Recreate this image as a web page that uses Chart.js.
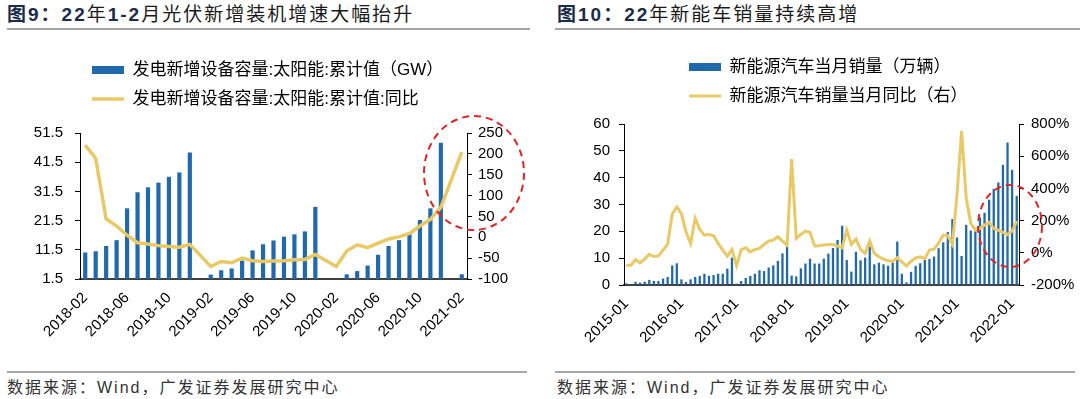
<!DOCTYPE html>
<html>
<head>
<meta charset="utf-8">
<script src="https://cdn.jsdelivr.net/npm/chart.js@4.4.1/dist/chart.umd.min.js"></script>
<style>
  body { margin: 0; width: 1080px; height: 399px; background: #fff; position: relative; overflow: hidden;
         font-family: "Liberation Sans", "Noto Sans CJK SC", sans-serif; }
  .title { position: absolute; top: 3px; font-size: 19px; line-height: 24px; letter-spacing: 2px; color: #1a1a1a; white-space: nowrap; }
  .title b { color: #1b2b48; }
  .rule { position: absolute; height: 2px; background: #a6a6a6; }
  .src { position: absolute; top: 378px; font-size: 16px; line-height: 20px; letter-spacing: 2px; color: #333; white-space: nowrap; }
  .box { position: absolute; top: 36px; width: 540px; height: 318px; }
</style>
</head>
<body>

<div class="title" style="left:7px"><b>图9：22</b>年<b>1-2</b>月光伏新增装机增速大幅抬升</div>
<div class="rule" style="left:7px; width:523px; top:28px"></div>
<div class="title" style="left:557px"><b>图10：22</b>年新能车销量持续高增</div>
<div class="rule" style="left:555px; width:525px; top:28px"></div>

<div class="box" style="left:0"><canvas id="pvChart" width="540" height="318"></canvas></div>
<div class="box" style="left:540px"><canvas id="evChart" width="540" height="318"></canvas></div>

<div class="rule" style="left:7px; width:520px; top:371px"></div>
<div class="src" style="left:7px">数据来源：Wind，广发证券发展研究中心</div>
<div class="rule" style="left:555px; width:520px; top:371px"></div>
<div class="src" style="left:557px">数据来源：Wind，广发证券发展研究中心</div>

<script>
// ── 图9 data ──
const pvMonths = [
    '2018-02','2018-03','2018-04','2018-05','2018-06','2018-07','2018-08','2018-09','2018-10','2018-11','2018-12',
    '2019-01','2019-02','2019-03','2019-04','2019-05','2019-06','2019-07','2019-08','2019-09','2019-10','2019-11','2019-12',
    '2020-01','2020-02','2020-03','2020-04','2020-05','2020-06','2020-07','2020-08','2020-09','2020-10','2020-11','2020-12',
    '2021-01','2021-02'
];
const pvCapacity = [
    10.6, 11.0, 12.8, 14.8, 25.7, 31.2, 32.9, 34.5, 36.5, 38.0, 44.8,
    null, 3.0, 4.5, 5.1, 7.8, 11.3, 13.4, 14.7, 16.0, 16.8, 17.8, 26.2,
    null, null, 3.1, 4.2, 6.1, 9.8, 12.8, 14.8, 17.1, 21.7, 25.7, 48.2,
    null, 3.1
];
const pvYoY = [
    221, 189, 44, 27, 5, -13, -16, -20, -22, -24, -17,
    null, -70, -58, -61, -50, -56, -58, -57, -56, -54, -53, -41,
    null, -70, -33, -18, -25, -14, -4, 1, 9, 27, 43, 72,
    null, 204
];

// ── 图10 data ──
const evMonths = [
    '2015-01','2015-02','2015-03','2015-04','2015-05','2015-06','2015-07','2015-08','2015-09','2015-10','2015-11','2015-12',
    '2016-01','2016-02','2016-03','2016-04','2016-05','2016-06','2016-07','2016-08','2016-09','2016-10','2016-11','2016-12',
    '2017-01','2017-02','2017-03','2017-04','2017-05','2017-06','2017-07','2017-08','2017-09','2017-10','2017-11','2017-12',
    '2018-01','2018-02','2018-03','2018-04','2018-05','2018-06','2018-07','2018-08','2018-09','2018-10','2018-11','2018-12',
    '2019-01','2019-02','2019-03','2019-04','2019-05','2019-06','2019-07','2019-08','2019-09','2019-10','2019-11','2019-12',
    '2020-01','2020-02','2020-03','2020-04','2020-05','2020-06','2020-07','2020-08','2020-09','2020-10','2020-11','2020-12',
    '2021-01','2021-02','2021-03','2021-04','2021-05','2021-06','2021-07','2021-08','2021-09','2021-10','2021-11','2021-12',
    '2022-01','2022-02'
];
const evSales = [
    0.6, 0.3, 1.2, 0.9, 1.2, 1.9, 1.5, 1.5, 2.4, 3.0, 7.3, 8.1,
    2.1, 1.1, 2.1, 3.0, 3.4, 4.2, 3.4, 3.7, 4.2, 4.2, 6.1, 10.2,
    0.5, 1.5, 2.6, 3.4, 4.2, 5.5, 5.2, 6.5, 7.3, 9.0, 11.8, 14.3,
    3.5, 3.2, 6.2, 8.0, 9.8, 8.0, 8.0, 9.8, 11.7, 13.8, 16.8, 22.1,
    9.3, 5.0, 12.4, 9.2, 10.2, 14.3, 7.7, 8.3, 7.7, 7.2, 8.3, 16.2,
    4.2, 1.0, 4.9, 7.1, 8.1, 9.3, 9.7, 10.6, 13.7, 15.9, 19.7, 24.6,
    17.7, 10.8, 22.4, 20.3, 21.1, 25.2, 26.9, 31.8, 35.8, 38.2, 44.8, 53.1,
    42.9, 33.2
];
const evYoY = [
    -77, -77, -42, -62, -39, -10, -23, -19, 17, 54, 241, 285,
    243, 131, 58, 214, 145, 110, 114, 106, 58, 17, -21, 21,
    -81, 19, 31, 6, 21, 27, 52, 73, 79, 100, 73, 48,
    582, 89, 114, 135, 127, 42, 44, 48, 52, 52, 42, 31,
    141, 52, 85, 21, -4, 73, -4, -25, -39, -50, -52, -31,
    -56, -81, -52, -31, -25, -35, 17, 23, 62, 110, 106, 52,
    360, 758, 340, 183, 141, 152, 172, 189, 152, 141, 127, 114,
    135, 197
];

const BLUE = '#2069ad';
const GOLD = '#e9c965';
const RED  = '#e02525';

Chart.defaults.font.family = "'Liberation Sans', 'Noto Sans CJK SC', sans-serif";
Chart.defaults.color = '#000';
Chart.defaults.animation = false;

// put the legend block where the reference has it
const legendAt = {
    id: 'legendAt',
    afterLayout(chart, args, o) {
        const lg = chart.legend;
        lg.left = o.left;
        lg.top = o.top;
        lg.bottom = o.top + lg.height;
    }
};

// red dashed highlight ring
const ring = {
    id: 'ring',
    afterDraw(chart, args, o) {
        const ctx = chart.ctx;
        ctx.save();
        ctx.strokeStyle = RED;
        ctx.lineWidth = 2;
        ctx.setLineDash([7, 5]);
        ctx.beginPath();
        ctx.ellipse(o.x, o.y, o.rx, o.ry, 0, 0, Math.PI * 2);
        ctx.stroke();
        ctx.restore();
    }
};

const legendOpts = {
    position: 'top',
    align: 'start',
    labels: {
        usePointStyle: true,
        pointStyleWidth: 32,
        boxHeight: 8,
        padding: 12,
        color: '#000',
        font: { size: 17 },
        sort: (a, b) => a.datasetIndex - b.datasetIndex
    }
};

const yAxis = (pos, width, pad, extra) => Object.assign({
    position: pos,
    grid: { drawOnChartArea: false, tickLength: 5, tickColor: '#000' },
    border: { color: '#000', width: 1 },
    afterFit: s => { s.width = width; }
}, extra, { ticks: Object.assign({ font: { size: 15 }, color: '#000', padding: pad, autoSkip: false }, extra.ticks) });

const xAxis = (every, height) => ({
    grid: { display: false },
    border: { display: true, color: '#404040', width: 2 },
    ticks: {
        autoSkip: false, maxRotation: 45, minRotation: 45, padding: 2,
        font: { size: 15 }, color: '#000',
        callback(v, i) { return i % every === 0 ? this.getLabelForValue(v) : ''; }
    },
    afterFit: s => { s.height = height; }
});

// ── 图9 ──
new Chart(document.getElementById('pvChart'), {
    type: 'bar',
    data: {
        labels: pvMonths,
        datasets: [
            {
                label: '发电新增设备容量:太阳能:累计值（GW）',
                data: pvCapacity,
                yAxisID: 'y',
                backgroundColor: BLUE,
                barPercentage: 0.4,
                categoryPercentage: 1,
                pointStyle: 'rect',
                order: 1
            },
            {
                type: 'line',
                label: '发电新增设备容量:太阳能:累计值:同比',
                data: pvYoY,
                yAxisID: 'y1',
                borderColor: GOLD,
                backgroundColor: GOLD,
                borderWidth: 3.5,
                pointRadius: 0,
                pointStyle: 'line',
                spanGaps: true,
                tension: 0,
                order: 0
            }
        ]
    },
    options: {
        responsive: false,
        devicePixelRatio: 1,
        layout: { padding: { top: 29, left: 0, right: 0, bottom: 0 } },
        plugins: {
            legend: legendOpts,
            tooltip: { enabled: false },
            legendAt: { left: 80, top: 13.5 },
            ring: { x: 474, y: 137, rx: 50, ry: 57 }
        },
        scales: {
            x: xAxis(4, 75),
            y: yAxis('left', 80, 12, { min: 1.5, max: 51.5, ticks: { stepSize: 10 } }),
            y1: yAxis('right', 73, 6, { min: -100, max: 250, ticks: { stepSize: 50 } })
        }
    },
    plugins: [legendAt, ring]
});

// ── 图10 ──
new Chart(document.getElementById('evChart'), {
    type: 'bar',
    data: {
        labels: evMonths,
        datasets: [
            {
                label: '新能源汽车当月销量（万辆）',
                data: evSales,
                yAxisID: 'y',
                backgroundColor: BLUE,
                barPercentage: 0.5,
                categoryPercentage: 1,
                pointStyle: 'rect',
                order: 1
            },
            {
                type: 'line',
                label: '新能源汽车销量当月同比（右）',
                data: evYoY,
                yAxisID: 'y1',
                borderColor: GOLD,
                backgroundColor: GOLD,
                borderWidth: 3,
                pointRadius: 0,
                pointStyle: 'line',
                tension: 0,
                order: 0
            }
        ]
    },
    options: {
        responsive: false,
        devicePixelRatio: 1,
        layout: { padding: { top: 20, left: 0, right: 0, bottom: 0 } },
        plugins: {
            legend: legendOpts,
            tooltip: { enabled: false },
            legendAt: { left: 137, top: 10.5 },
            ring: { x: 470, y: 190, rx: 32, ry: 41 }
        },
        scales: {
            x: xAxis(12, 69),
            y: yAxis('left', 84, 9, { min: 0, max: 60, ticks: { stepSize: 10 } }),
            y1: yAxis('right', 61, 7, { min: -200, max: 800, ticks: { stepSize: 200, callback: v => v + '%' } })
        }
    },
    plugins: [legendAt, ring]
});
</script>
</body>
</html>
